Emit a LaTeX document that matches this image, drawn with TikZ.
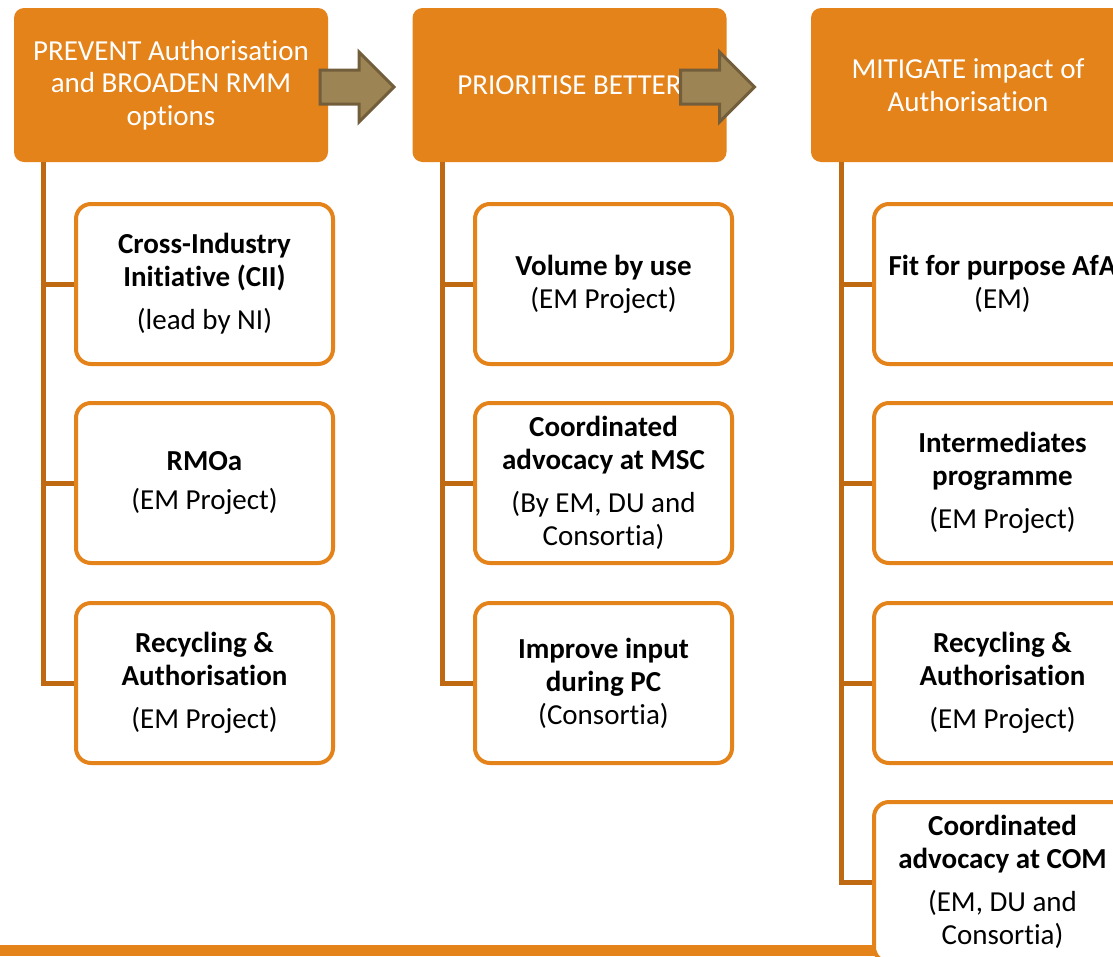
\documentclass[tikz,border=0pt]{standalone}
\usepackage{fontspec}
\setmainfont{Carlito}[Ligatures=NoCommon]
\usetikzlibrary{shapes.arrows}
\definecolor{orangeM}{HTML}{E4831A}
\definecolor{orangeF}{HTML}{BF6A12}
\definecolor{fleche}{HTML}{9C8455}
\definecolor{flecheB}{HTML}{735E3C}
\begin{document}
\begin{tikzpicture}[x=1pt,y=-1pt,
    titre/.style={fill=orangeM, text=white, rounded corners=10pt, minimum width=314pt, minimum height=154pt, align=center, font=\fontsize{29}{32.5}\selectfont},
    boite/.style={draw=orangeM, line width=4pt, fill=white, rounded corners=15pt, minimum width=257pt, minimum height=160pt, align=center, font=\fontsize{29}{33}\selectfont},
    lien/.style={draw=orangeF, line width=5pt},
    grosse/.style={single arrow, draw=flecheB, fill=fleche, line width=3pt, minimum height=74pt, inner xsep=0pt, inner ysep=15.5pt, single arrow head extend=18pt}]
    \clip (0,0) rectangle (1113,956);

    % Les trois titres
    \node[titre] (t1) at (171,85) {PREVENT Authorisation\\and BROADEN RMM\\options};
    \node[titre] (t2) at (569.5,85) {PRIORITISE BETTER};
    \node[titre] (t3) at (968,85) {MITIGATE impact of\\Authorisation};

    % Les grosses fleches entre les titres
    \node[grosse] (f1) at (348.5,87) {};
    \node[grosse] (f2) at (709,87) {};

    % Les troncs
    \coordinate (r1) at (43,162);
    \coordinate (r2) at (442,162);
    \coordinate (r3) at (841,162);
    \coordinate (b11w) at (74,284);
    \coordinate (b12w) at (74,483);
    \coordinate (b13w) at (74,683);
    \coordinate (b21w) at (473,284);
    \coordinate (b22w) at (473,483);
    \coordinate (b23w) at (473,683);
    \coordinate (b31w) at (872,284);
    \coordinate (b32w) at (872,483);
    \coordinate (b33w) at (872,683);
    \coordinate (b34w) at (872,882);
    \draw[lien] (r1) |- (b13w);
    \draw[lien] (r1 |- b11w) -- (b11w);
    \draw[lien] (r1 |- b12w) -- (b12w);
    \draw[lien] (r2) |- (b23w);
    \draw[lien] (r2 |- b21w) -- (b21w);
    \draw[lien] (r2 |- b22w) -- (b22w);
    \draw[lien] (r3) |- (b34w);
    \draw[lien] (r3 |- b31w) -- (b31w);
    \draw[lien] (r3 |- b32w) -- (b32w);
    \draw[lien] (r3 |- b33w) -- (b33w);

    % La barre du bas
    \fill[orangeM] (0,945) rectangle (876,956);

    % Colonne 1
    \node[boite, anchor=west] (b11) at (b11w) {\textbf{Cross-Industry}\\\textbf{Initiative (CII)}\\[10pt](lead by NI)};
    \node[boite, anchor=west] (b12) at (b12w) {\textbf{RMOa}\\[6pt](EM Project)};
    \node[boite, anchor=west] (b13) at (b13w) {\textbf{Recycling \&}\\\textbf{Authorisation}\\[10pt](EM Project)};

    % Colonne 2
    \node[boite, anchor=west] (b21) at (b21w) {\textbf{Volume by use}\\(EM Project)};
    \node[boite, anchor=west] (b22) at (b22w) {\textbf{Coordinated}\\\textbf{advocacy at MSC}\\[10pt](By EM, DU and\\Consortia)};
    \node[boite, anchor=west] (b23) at (b23w) {\textbf{Improve input}\\\textbf{during PC}\\(Consortia)};

    % Colonne 3
    \node[boite, anchor=west] (b31) at (b31w) {\textbf{Fit for purpose AfA}\\(EM)};
    \node[boite, anchor=west] (b32) at (b32w) {\textbf{Intermediates}\\\textbf{programme}\\[10pt](EM Project)};
    \node[boite, anchor=west] (b33) at (b33w) {\textbf{Recycling \&}\\\textbf{Authorisation}\\[10pt](EM Project)};
    \node[boite, anchor=west] (b34) at (b34w) {\textbf{Coordinated}\\\textbf{advocacy at COM}\\[10pt](EM, DU and\\Consortia)};
\end{tikzpicture}
\end{document}
